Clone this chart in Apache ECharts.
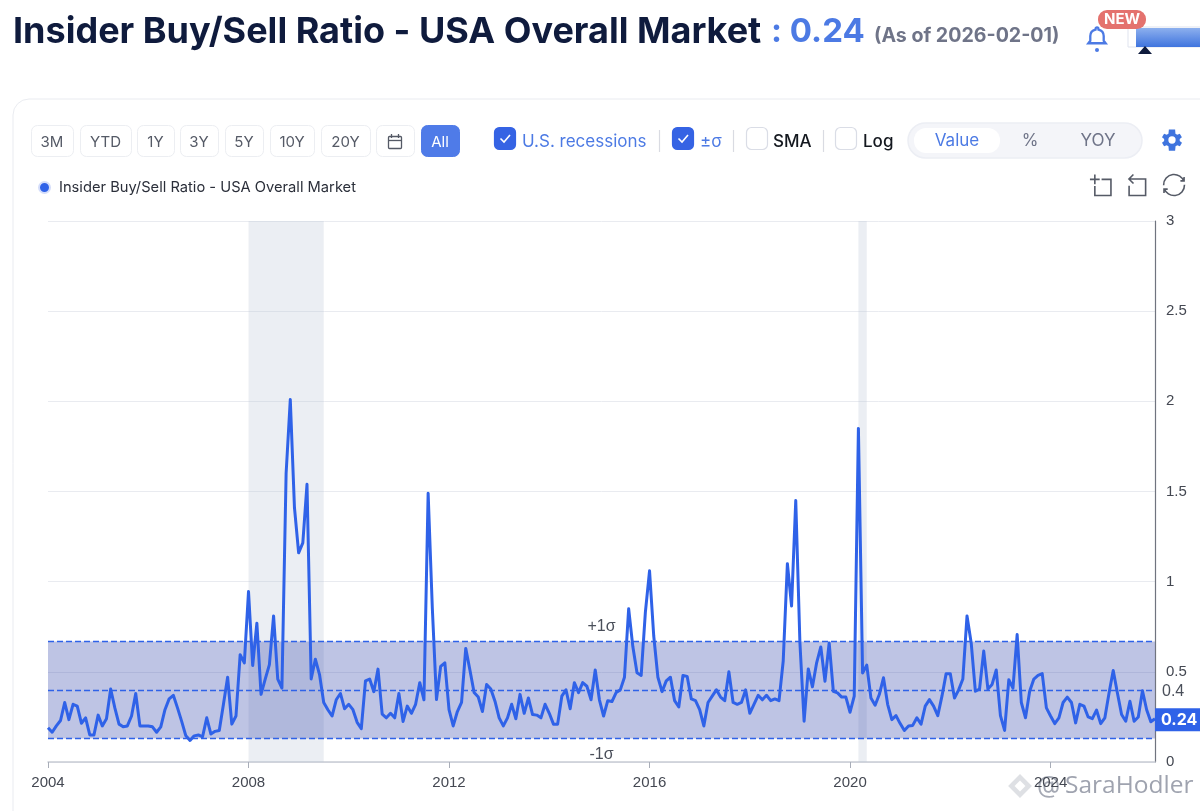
<!DOCTYPE html>
<html><head><meta charset="utf-8">
<style>html,body{margin:0;padding:0;background:#fff}#c{width:1200px;height:811px}</style>
<script src="https://cdn.jsdelivr.net/npm/echarts@6/dist/echarts.min.js"></script>
</head><body><div id="c"></div>
<script>
const seriesName = 'Insider Buy/Sell Ratio - USA Overall Market';
const startYear = 2004;
const ratio = [
 .19,.165,.20,.23,.33,.235,.32,.31,.215,.245,.15,.15,
 .26,.20,.24,.405,.30,.21,.195,.20,.255,.38,.20,.20,
 .20,.195,.165,.195,.29,.35,.37,.30,.225,.145,.12,.145,
 .15,.14,.245,.155,.17,.175,.32,.47,.21,.255,.595,.55,
 .945,.535,.77,.375,.46,.54,.81,.46,.41,1.60,2.01,1.41,
 1.16,1.215,1.54,.46,.57,.485,.33,.29,.255,.345,.38,.295,
 .32,.29,.22,.185,.45,.46,.39,.515,.265,.245,.27,.245,
 .38,.225,.31,.27,.32,.44,.345,1.49,.854,.346,.53,.55,
 .29,.20,.28,.33,.63,.51,.385,.36,.28,.43,.405,.337,
 .245,.20,.245,.32,.24,.375,.27,.355,.263,.26,.245,.32,
 .27,.21,.21,.365,.40,.295,.44,.385,.44,.42,.345,.51,
 .345,.255,.34,.335,.385,.40,.47,.85,.64,.495,.48,.83,
 1.06,.70,.47,.39,.45,.47,.34,.305,.48,.475,.35,.34,
 .29,.20,.33,.365,.40,.36,.34,.50,.33,.32,.33,.40,
 .27,.32,.37,.345,.37,.34,.35,.34,.56,1.10,.865,1.45,
 .66,.226,.516,.417,.55,.638,.448,.66,.392,.383,.36,.36,
 .276,.365,1.85,.494,.537,.355,.315,.374,.467,.32,.235,.257,
 .213,.175,.20,.203,.245,.21,.31,.346,.31,.257,.365,.49,
 .49,.355,.40,.46,.81,.66,.392,.405,.615,.405,.43,.51,
 .257,.175,.456,.41,.707,.33,.245,.392,.46,.48,.49,.30,
 .255,.213,.245,.33,.36,.33,.217,.32,.31,.25,.24,.288,
 .213,.245,.383,.507,.383,.263,.226,.337,.226,.25,.395,.29,
 .223,.24
];
const sigmaUpper = 0.668, sigmaMean = 0.40, sigmaLower = 0.13, latest = 0.24;
const recessions = [['2008-01','2009-07'],['2020-03','2020-05']];
const rangeLabels = ['3M','YTD','1Y','3Y','5Y','10Y','20Y','','All'];
const months = ratio.map((_, i) => {
  const y = startYear + Math.floor(i / 12), m = i % 12 + 1;
  return y + '-' + String(m).padStart(2, '0');
});

const UI = 'Inter, "Noto Sans", sans-serif';
const AX = '"Liberation Sans", Arial, sans-serif';
const BLUE = '#2f62e8', SOFT = '#4c7ae4';
const isTick = (i) => i % 48 === 0;

const iconPaths = {
  bellIcon:'M12 2a1.5 1.5 0 0 1 1.5 1.5v.7A7 7 0 0 1 19 11v5l2 2.5H3L5 16v-5a7 7 0 0 1 5.500-6.800v-.7A1.500 1.500 0 0 1 12 2z',
  gearIcon:'M19.400 13a7.500 7.500 0 0 0 0-2l2.100-1.600-2-3.500-2.500 1a7.500 7.500 0 0 0-1.700-1L15 1.800h-6l-.4 4.100a7.500 7.500 0 0 0-1.700 1l-2.500-1-2 3.500L4.500 11a7.500 7.500 0 0 0 0 2l-2.100 1.600 2 3.500 2.500-1a7.500 7.500 0 0 0 1.700 1l.4 4.100h6l.4-4.100a7.500 7.500 0 0 0 1.700-1l2.500 1 2-3.500zM12 15.500a3.500 3.500 0 1 1 0-7 3.500 3.500 0 0 1 0 7z',
  markIcon:'M12 1 L23 12 L12 23 L1 12 Z M12 7 L7 12 L12 17 L17 12 Z'
};
Object.keys(iconPaths).forEach(k => echarts.graphic.registerShape(k, echarts.graphic.extendPath(iconPaths[k], {})));

const gfx = [];
const text = (x, y, t, font, fill, align) => gfx.push({type:'text', x, y, silent:true,
  style:{text:t, font, fill, align:align||'left', verticalAlign:'middle'}});
const rect = (x, y, w, h, r, fill, stroke, lw) => gfx.push({type:'rect', silent:true,
  shape:{x, y, width:w, height:h, r}, style:{fill, stroke, lineWidth:lw||1}});
const line = (pts, stroke, lw) => gfx.push({type:'polyline', silent:true,
  shape:{points:pts}, style:{fill:null, stroke, lineWidth:lw||1}});
const icon = (name, cx, cy, size, style) => gfx.push({type:name, silent:true,
  x:cx-size/2, y:cy-size/2, scaleX:size/24, scaleY:size/24, style});

// card
rect(13, 99, 1230, 760, 16, '#fff', '#e9ebf0', 1);

// heading
text(13, 32, seriesName, '700 36px ' + UI, '#0f1b3d');
text(771, 32, ': 0.24', '700 33px ' + UI, SOFT);
text(874, 36.5, '(As of 2026-02-01)', '700 19.6px ' + UI, '#6f7488');

// bell + promo
icon('bellIcon', 1097, 37, 23, {fill:null, stroke:SOFT, lineWidth:2.4});
gfx.push({type:'circle', silent:true, shape:{cx:1097, cy:50, r:2}, style:{fill:SOFT}});
rect(1128, 27, 90, 20, 0, '#fff', '#dfe3ee', 1);
gfx.push({type:'rect', silent:true, shape:{x:1136, y:28, width:70, height:19},
  style:{fill:{type:'linear', x:0, y:0, x2:0, y2:1, colorStops:[{offset:0,color:'#8db0ee'},{offset:1,color:'#3f74de'}]}}});
rect(1098, 10, 48, 19, 9, '#e4726e');
text(1122, 19, 'NEW', '700 15px ' + UI, '#fff', 'center');
gfx.push({type:'polygon', silent:true, shape:{points:[[1138,54],[1152,54],[1145,46]]}, style:{fill:'#0f1b3d'}});

// range buttons
const spans = [[31,73],[80,131],[137,174],[180,218],[225,263],[270,314],[321,370],[376,414],[421,459]];
spans.forEach((s, i) => {
  const on = rangeLabels[i] === 'All';
  rect(s[0]+.5, 125.5, s[1]-s[0], 31, 6, on ? '#4f7be8' : '#fff', on ? '#4f7be8' : '#eceef2');
  if (rangeLabels[i]) text((s[0]+s[1])/2, 142, rangeLabels[i], '400 15px ' + UI, on ? '#fff' : '#555a66', 'center');
});
// calendar icon
rect(388.5, 136.5, 13, 12, 1, null, '#555a66', 1.3);
line([[388.5,140.500],[401.500,140.500]], '#555a66', 1.3);
line([[391.500,134],[391.500,138]], '#555a66', 1.3);
line([[398.500,134],[398.500,138]], '#555a66', 1.3);

// checkboxes
const checks = [
  [494, 'U.S. recessions', true, 522],
  [672, '±σ', true, 700],
  [746, 'SMA', false, 773],
  [835, 'Log', false, 863]
];
checks.forEach(c => {
  rect(c[0]+.5, 127.5, 21, 22, 5, c[2] ? '#3563e4' : '#fff', c[2] ? '#3563e4' : '#dadde6', 1.2);
  if (c[2]) line([[c[0]+6.500,138.500],[c[0]+10,142],[c[0]+16,135]], '#fff', 1.6);
  text(c[3], 142, c[1], (c[2] ? '400' : '500') + ' 17px ' + UI, c[2] ? SOFT : '#14181f');
});
[659, 733, 823].forEach(x => line([[x+.5,130],[x+.5,152]], '#d9dbe2', 1.2));

// value switch
rect(908, 123, 234, 35, 17.5, '#f4f5f9', '#eceef4', 1.5);
rect(914, 128, 86, 25, 12, '#fff');
text(957, 140.5, 'Value', '400 17px ' + UI, SOFT, 'center');
text(1030, 140.5, '%', '400 17px ' + UI, '#6f7488', 'center');
text(1098, 140.5, 'YOY', '400 17px ' + UI, '#6f7488', 'center');

// gear
icon('gearIcon', 1172, 140, 25, {fill:'#3f74de'});

// watermark
icon('markIcon', 1020, 786, 26, {fill:'rgba(160,165,178,.35)'});
text(1037, 786, '@', '400 24px ' + UI, 'rgba(135,140,155,.75)');
text(1065, 786, 'SaraHodler', '400 24.5px "Open Sans", sans-serif', 'rgba(135,140,155,.8)');

const sigmaLine = (v, label, pos, offset) => ({
  yAxis: v,
  label: {show:true, formatter:label, position:pos, color:'#4a4f5a', fontFamily:AX, fontSize:16, distance:7, offset:offset||[0,0]}
});

const option = {
  animation:false,
  textStyle:{fontFamily:UI},
  grid:{left:48, right:45, top:221, bottom:49, containLabel:false},
  legend:{left:33, top:175, itemWidth:11, itemHeight:11, icon:'circle', itemGap:8, padding:[5,5,5,5],
    data:[{name:seriesName}],
    textStyle:{color:'#2b2f3a', fontSize:14.7, fontFamily:UI, padding:[0,0,0,4]},
    itemStyle:{borderColor:'#d4ddfa', borderWidth:2}},
  toolbox:{right:-2, top:157, itemSize:21, itemGap:13,
    iconStyle:{borderColor:'#555a66', borderWidth:1.6},
    feature:{dataZoom:{title:{zoom:'', back:''}}, restore:{title:''}}},
  xAxis:{type:'category', data:months, boundaryGap:false,
    axisLine:{lineStyle:{color:'#c8ccd4', width:1.5}},
    axisTick:{alignWithLabel:true, interval:(i)=>isTick(i), length:6, lineStyle:{color:'#a8adb8'}},
    axisLabel:{interval:(i)=>isTick(i), formatter:(v)=>v.slice(0,4), color:'#444852', fontSize:15, fontFamily:AX, margin:13, hideOverlap:false},
    splitLine:{show:false}},
  yAxis:{type:'value', position:'right', min:0, max:3, interval:.5,
    axisLine:{show:true, lineStyle:{color:'#70747f', width:1.2}},
    axisTick:{show:false},
    splitLine:{lineStyle:{color:'#e9ebf0', width:1}},
    axisLabel:{color:'#444852', fontSize:15, fontFamily:AX, margin:11, padding:[2,0,0,0]}},
  graphic:gfx,
  series:[
    {name:'Recessions', type:'line', data:[], silent:true, z:1,
      markArea:{silent:true, itemStyle:{color:'rgba(190,198,216,.3)'},
        data:recessions.map(r=>[{xAxis:r[0]},{xAxis:r[1]}])}},
    {name:'±σ', type:'line', data:[], silent:true, z:2,
      markArea:{silent:true, itemStyle:{color:'rgba(52,72,170,.32)'},
        data:[[{yAxis:sigmaLower},{yAxis:sigmaUpper}]]},
      markLine:{silent:true, symbol:'none',
        lineStyle:{color:BLUE, type:[6,3], width:1.4},
        data:[
          sigmaLine(sigmaUpper, '+1σ', 'insideMiddleTop'),
          sigmaLine(sigmaMean, '0.4', 'end', [0,2]),
          sigmaLine(sigmaLower, '-1σ', 'insideMiddleBottom', [0,1])
        ]}},
    {name:seriesName, type:'line', data:ratio, symbol:'none', z:5, smooth:false,
      color:BLUE, lineStyle:{color:BLUE, width:3, join:'round'},
      markLine:{silent:true, symbol:'none', lineStyle:{color:'transparent', width:0},
        data:[{yAxis:latest, label:{show:true, position:'end', distance:0, formatter:String(latest),
          color:'#fff', fontWeight:700, fontSize:16, fontFamily:UI, backgroundColor:BLUE, padding:[4,6,3,6], offset:[0,1]}}]}}
  ]
};
echarts.init(document.getElementById('c')).setOption(option);
</script></body></html>
